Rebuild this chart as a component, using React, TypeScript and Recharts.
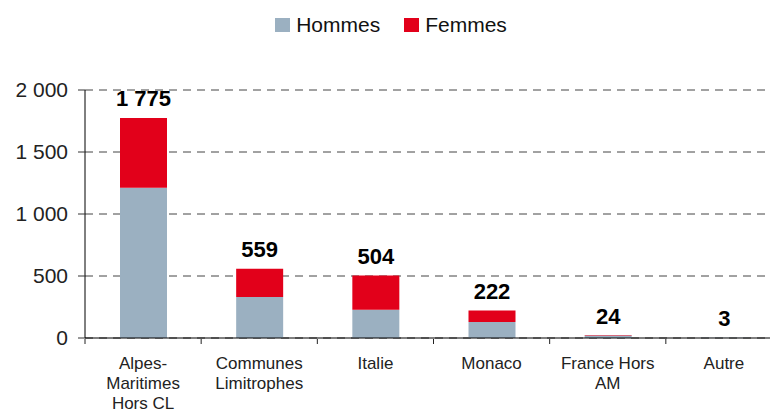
import { BarChart, Bar, XAxis, YAxis, CartesianGrid, Legend, LabelList } from 'recharts';

const categories = ['Alpes-\nMaritimes\nHors CL', 'Communes\nLimitrophes', 'Italie', 'Monaco', 'France Hors\nAM', 'Autre'];
const hommes = [1212, 331, 228, 129, 20, 2];
const femmes = [563, 228, 276, 93, 4, 1];
const totals = [1775, 559, 504, 222, 24, 3];
const yTicks = [0, 500, 1000, 1500, 2000];

const FONT = '"Liberation Sans", Arial, Helvetica, sans-serif';
const GREY = '#9bb0c1';
const RED = '#e2001a';
const CHART_W = 782;
const Y_AXIS_W = 85;
const BAND = (CHART_W - Y_AXIS_W) / categories.length;

const data = categories.map((name, i) => ({
  name,
  hommes: hommes[i],
  femmes: femmes[i],
  total: totals[i],
}));

const fmt = (v: number) => String(v).replace(/\B(?=(\d{3})+(?!\d))/g, ' ');

function XTick({ x, y, payload }: any) {
  const lines = String(payload.value).split('\n');
  const left = x - BAND / 2;
  return (
    <g>
      <line x1={left} y1={y - 7} x2={left} y2={y - 2} stroke="#222" />
      <text x={x} y={y} textAnchor="middle" fill="#222" fontSize={17} fontFamily={FONT}>
        {lines.map((l, i) => (
          <tspan key={i} x={x} dy={i === 0 ? 23 : 20}>{l}</tspan>
        ))}
      </text>
    </g>
  );
}

function TotalLabel({ x, y, width, index }: any) {
  return (
    <text
      x={x + width / 2}
      y={y - 19}
      textAnchor="middle"
      dominantBaseline="central"
      fontSize={22}
      fontWeight="bold"
      fill="#000"
      fontFamily={FONT}
    >
      {fmt(totals[index])}
    </text>
  );
}

function LegendContent() {
  const items = [
    { label: 'Hommes', color: GREY },
    { label: 'Femmes', color: RED },
  ];
  return (
    <div style={{ display: 'flex', justifyContent: 'center', gap: 24, fontFamily: FONT, fontSize: 21, color: '#111', paddingTop: 13 }}>
      {items.map((it) => (
        <div key={it.label} style={{ display: 'flex', alignItems: 'center', gap: 6 }}>
          <span style={{ width: 15, height: 14, background: it.color, display: 'inline-block' }} />
          <span>{it.label}</span>
        </div>
      ))}
    </div>
  );
}

export default function App() {
  return (
    <div style={{ position: 'absolute', left: 0, top: 0, width: 770, height: 414, overflow: 'hidden', background: '#fff' }}>
      <BarChart width={CHART_W} height={414} data={data} margin={{ top: 0, right: 0, bottom: 0, left: 0 }} barSize={47}>
        <Legend verticalAlign="top" height={90} content={<LegendContent />} />
        <CartesianGrid vertical={false} stroke="#444" strokeDasharray="8 6" />
        <XAxis
          dataKey="name"
          height={76}
          axisLine={{ stroke: '#000' }}
          tickLine={false}
          interval={0}
          tick={<XTick />}
        />
        <YAxis
          width={Y_AXIS_W}
          domain={[0, 2000]}
          ticks={yTicks}
          tickFormatter={fmt}
          axisLine={{ stroke: '#000' }}
          tickLine={{ stroke: '#333' }}
          tickSize={7}
          tickMargin={10}
          tick={{ fill: '#222', fontSize: 21, fontFamily: FONT }}
        />
        <Bar dataKey="hommes" stackId="a" fill={GREY} isAnimationActive={false} />
        <Bar dataKey="femmes" stackId="a" fill={RED} isAnimationActive={false}>
          <LabelList dataKey="total" content={<TotalLabel />} />
        </Bar>
      </BarChart>
    </div>
  );
}
